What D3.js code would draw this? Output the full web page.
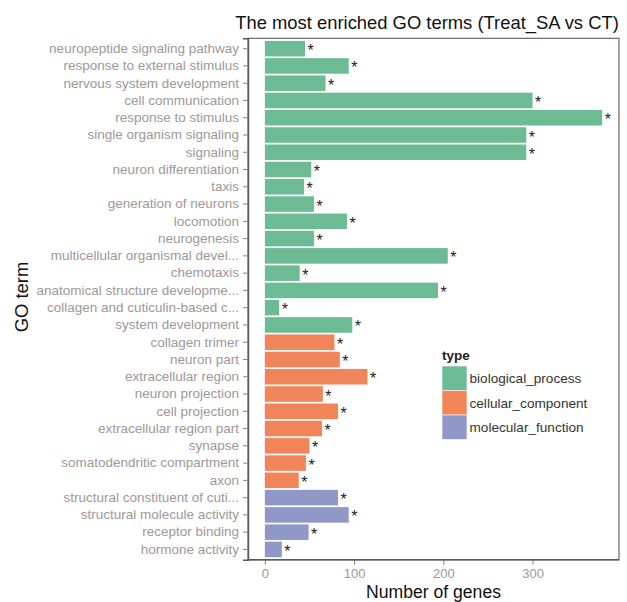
<!DOCTYPE html>
<html>
<head>
<meta charset="utf-8">
<script src="https://cdn.jsdelivr.net/npm/d3@7"></script>
<style>
  html, body { margin: 0; padding: 0; background: #fff; }
  svg { display: block; font-family: "Liberation Sans", Arial, Helvetica, sans-serif; }
</style>
</head>
<body>
<svg id="chart" width="627" height="602"></svg>
<script>
// GO terms, top to bottom
const terms = [
  "neuropeptide signaling pathway",
  "response to external stimulus",
  "nervous system development",
  "cell communication",
  "response to stimulus",
  "single organism signaling",
  "signaling",
  "neuron differentiation",
  "taxis",
  "generation of neurons",
  "locomotion",
  "neurogenesis",
  "multicellular organismal devel...",
  "chemotaxis",
  "anatomical structure developme...",
  "collagen and cuticulin-based c...",
  "system development",
  "collagen trimer",
  "neuron part",
  "extracellular region",
  "neuron projection",
  "cell projection",
  "extracellular region part",
  "synapse",
  "somatodendritic compartment",
  "axon",
  "structural constituent of cuti...",
  "structural molecule activity",
  "receptor binding",
  "hormone activity"
];

// Number of genes per term
const geneCounts = [
  45, 94, 68, 300, 378, 293, 293, 52, 44, 55,
  92, 55, 205, 39, 194, 16, 98, 78, 84, 115,
  65, 82, 64, 50, 46, 38, 82, 94, 49, 19
];

// GO category of each term
const termTypes = [
  "biological_process", "biological_process", "biological_process", "biological_process",
  "biological_process", "biological_process", "biological_process", "biological_process",
  "biological_process", "biological_process", "biological_process", "biological_process",
  "biological_process", "biological_process", "biological_process", "biological_process",
  "biological_process",
  "cellular_component", "cellular_component", "cellular_component", "cellular_component",
  "cellular_component", "cellular_component", "cellular_component", "cellular_component",
  "cellular_component",
  "molecular_function", "molecular_function", "molecular_function", "molecular_function"
];

// Significance marks
const significance = terms.map(() => "*");

const typeNames = ["biological_process", "cellular_component", "molecular_function"];
const typeColors = ["#6dbb95", "#f2845a", "#8f98c7"];
const xTicks = [0, 100, 200, 300];

const rows = terms.map((t, i) => ({ term: t, count: geneCounts[i], type: termTypes[i], sig: significance[i] }));

const svg = d3.select("#chart");

const panel = { left: 248, right: 619, top: 38.3, bottom: 559.8 };

const maxCount = d3.max(geneCounts);
const x = d3.scaleLinear()
  .domain([-0.05 * maxCount, 1.05 * maxCount])
  .range([panel.left, panel.right]);

const y = d3.scaleBand()
  .domain(terms)
  .range([panel.top, panel.bottom])
  .paddingInner(0.1)
  .paddingOuter(0.15);

const color = d3.scaleOrdinal().domain(typeNames).range(typeColors);

const labelColor = "#a09797";
const tickColor = "#8c8484";

// Bars
svg.append("g")
  .selectAll("rect")
  .data(rows)
  .join("rect")
  .attr("x", x(0))
  .attr("y", d => y(d.term))
  .attr("width", d => x(d.count) - x(0))
  .attr("height", y.bandwidth())
  .attr("fill", d => color(d.type));

// Significance stars
svg.append("g")
  .selectAll("text")
  .data(rows)
  .join("text")
  .attr("x", d => x(d.count) + 2.5)
  .attr("y", d => y(d.term) + y.bandwidth() / 2 + 7.5)
  .attr("font-size", 16)
  .attr("fill", "#222")
  .text(d => d.sig);

// Panel border
svg.append("rect")
  .attr("x", panel.left)
  .attr("y", panel.top)
  .attr("width", panel.right - panel.left)
  .attr("height", panel.bottom - panel.top)
  .attr("fill", "none")
  .attr("stroke", "#5f5757")
  .attr("stroke-width", 1.1);

// Y axis
const yAxis = svg.append("g")
  .attr("transform", `translate(${panel.left},0)`)
  .call(d3.axisLeft(y).tickSize(5).tickPadding(4));
yAxis.select(".domain").attr("stroke", "#5f5757").attr("stroke-width", 1.4);
yAxis.selectAll(".tick line").attr("stroke", tickColor);
yAxis.selectAll(".tick text")
  .attr("fill", labelColor)
  .attr("font-size", 13.5)
  .attr("font-family", "'Liberation Sans', Arial, sans-serif");

// X axis
const xAxis = svg.append("g")
  .attr("transform", `translate(0,${panel.bottom})`)
  .call(d3.axisBottom(x).tickValues(xTicks).tickSize(5).tickPadding(4));
xAxis.select(".domain").remove();
svg.append("line")
  .attr("x1", panel.left).attr("x2", panel.right)
  .attr("y1", panel.bottom).attr("y2", panel.bottom)
  .attr("stroke", "#5f5757").attr("stroke-width", 1.4);
xAxis.selectAll(".tick line").attr("stroke", tickColor);
xAxis.selectAll(".tick text")
  .attr("fill", labelColor)
  .attr("font-size", 13)
  .attr("font-family", "'Liberation Sans', Arial, sans-serif");

// Title and axis titles
svg.append("text")
  .attr("x", 427)
  .attr("y", 29)
  .attr("text-anchor", "middle")
  .attr("font-size", 18.4)
  .attr("fill", "#111")
  .text("The most enriched GO terms (Treat_SA vs CT)");

svg.append("text")
  .attr("x", (panel.left + panel.right) / 2)
  .attr("y", 598.3)
  .attr("text-anchor", "middle")
  .attr("font-size", 17.6)
  .attr("fill", "#111")
  .text("Number of genes");

svg.append("text")
  .attr("transform", `translate(27.5,297) rotate(-90)`)
  .attr("text-anchor", "middle")
  .attr("font-size", 18.4)
  .attr("fill", "#111")
  .text("GO term");

// Legend
const legend = svg.append("g").attr("transform", "translate(442,0)");
legend.append("text")
  .attr("x", 0)
  .attr("y", 360)
  .attr("font-size", 13.5)
  .attr("font-weight", "bold")
  .attr("fill", "#222")
  .text("type");

const keyH = 24.5, keyW = 25, keyTop = 366;
legend.selectAll("rect.key")
  .data(typeNames)
  .join("rect")
  .attr("class", "key")
  .attr("x", 0)
  .attr("y", (d, i) => keyTop + i * keyH)
  .attr("width", keyW)
  .attr("height", keyH)
  .attr("fill", d => color(d))
  .attr("stroke", "#fff")
  .attr("stroke-width", 0.6);

legend.selectAll("text.lab")
  .data(typeNames)
  .join("text")
  .attr("class", "lab")
  .attr("x", 27.5)
  .attr("y", (d, i) => keyTop + i * keyH + keyH / 2 + 4.8)
  .attr("font-size", 13.6)
  .attr("fill", "#333")
  .text(d => d);
</script>
</body>
</html>
